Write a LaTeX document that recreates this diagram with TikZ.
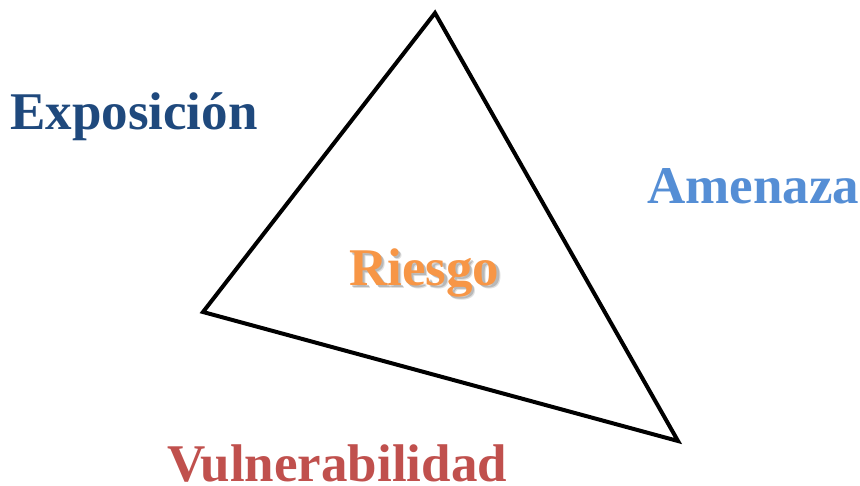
\documentclass[tikz,border=0pt]{standalone}
\usepackage{fontspec}
\setmainfont{Liberation Serif}
\definecolor{expo}{HTML}{1F497D}
\definecolor{amen}{HTML}{558ED5}
\definecolor{vuln}{HTML}{C0504D}
\definecolor{ries}{HTML}{F79646}
\begin{document}
\begin{tikzpicture}[x=1pt,y=-1pt,
  lbl/.style={anchor=base west,inner sep=0pt,font=\fontsize{53}{60}\selectfont\bfseries}]
\useasboundingbox (0,0) rectangle (860,485);
\coordinate (top) at (435,13);
\coordinate (left) at (203,312);
\coordinate (right) at (678,441);
\draw[line width=4pt,line join=miter] (top) -- (left) -- (right) -- cycle;
\node[lbl,text=expo] (expo) at (10,129) {Exposición};
\node[lbl,text=amen] (amen) at (647,203) {Amenaza};
\node[lbl,text=vuln] (vuln) at (167,481) {Vulnerabilidad};
\node[lbl,text=black,opacity=0.18] (riesshadow) at (351.5,287.5) {Riesgo};
\node[lbl,text=black,opacity=0.12] (riesshadow2) at (352.5,288.5) {Riesgo};
\node[lbl,text=ries] (ries) at (349,285) {Riesgo};
\end{tikzpicture}
\end{document}
